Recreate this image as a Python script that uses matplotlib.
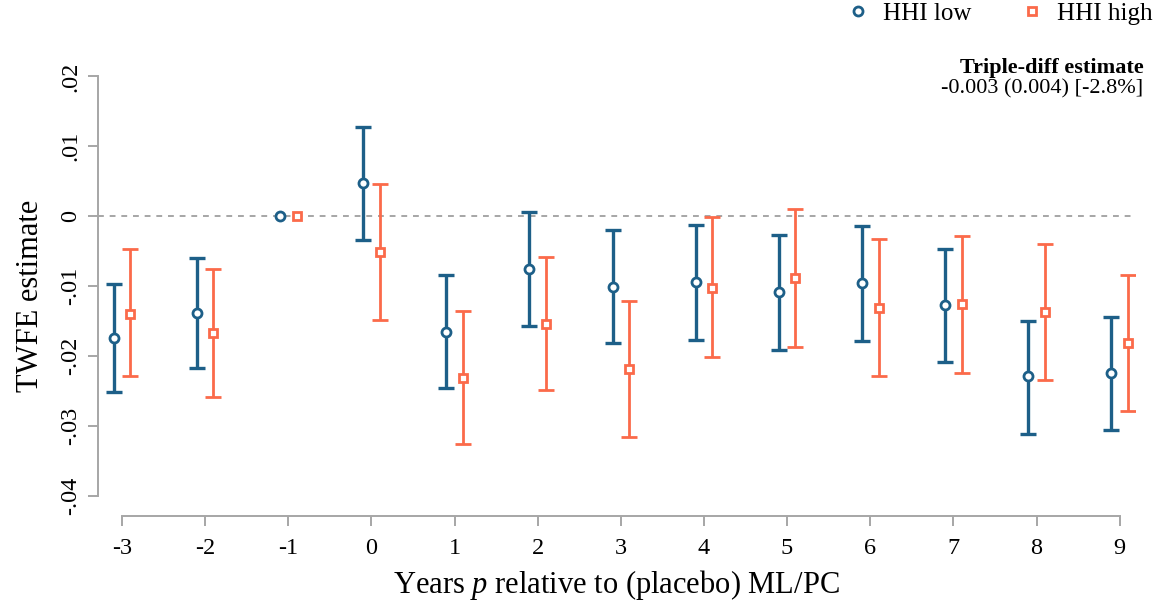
import matplotlib.pyplot as plt
import numpy as np

plt.rcParams['font.family'] = ['Liberation Serif', 'DejaVu Serif']
plt.rcParams['mathtext.fontset'] = 'custom'
plt.rcParams['mathtext.rm'] = 'Liberation Serif'
plt.rcParams['mathtext.it'] = 'Liberation Serif:italic'

years = [-3, -2, -1, 0, 1, 2, 3, 4, 5, 6, 7, 8, 9]

low_est = [-0.0174, -0.0138, 0.0, 0.0047, -0.0165, -0.0075, -0.0101, -0.0094, -0.0108, -0.0095, -0.0127, -0.0229, -0.0224]
low_hi = [-0.0097, -0.0060, 0.0, 0.0128, -0.0084, 0.0006, -0.0020, -0.0013, -0.0027, -0.0014, -0.0047, -0.0150, -0.0144]
low_lo = [-0.0252, -0.0217, 0.0, -0.0034, -0.0246, -0.0157, -0.0182, -0.0177, -0.0191, -0.0178, -0.0208, -0.0311, -0.0306]

high_est = [-0.0140, -0.0167, 0.0, -0.0051, -0.0231, -0.0154, -0.0219, -0.0103, -0.0088, -0.0131, -0.0125, -0.0137, -0.0181]
high_hi = [-0.0047, -0.0075, 0.0, 0.0046, -0.0135, -0.0058, -0.0121, -0.0001, 0.0010, -0.0033, -0.0028, -0.0040, -0.0084]
high_lo = [-0.0229, -0.0259, 0.0, -0.0148, -0.0326, -0.0249, -0.0316, -0.0201, -0.0187, -0.0228, -0.0224, -0.0235, -0.0279]

blue = '#1d5f88'
orange = '#fb6a4a'
grey = '#a6a6a6'

fig = plt.figure(figsize=(11.55, 6.06), dpi=100)
ax = fig.add_axes([0.0848, 0.1485, 0.8983, 0.7277])

x = np.array(years, dtype=float)
le = np.array(low_est); he = np.array(high_est)
ci = x != -1

ax.axhline(0, color=grey, ls=(0, (3, 3)), lw=1.4, zorder=1)

ax.errorbar(x[ci] - 0.1, le[ci], yerr=[le[ci] - np.array(low_lo)[ci], np.array(low_hi)[ci] - le[ci]],
            fmt='none', ecolor=blue, elinewidth=2.4, capsize=6, capthick=2.4, zorder=2)
ax.errorbar(x[ci] + 0.1, he[ci], yerr=[he[ci] - np.array(high_lo)[ci], np.array(high_hi)[ci] - he[ci]],
            fmt='none', ecolor=orange, elinewidth=2.0, capsize=6, capthick=2.0, zorder=2)
ax.plot(x - 0.1, le, 'o', ms=6.5, mfc='white', mec=blue, mew=2, ls='none', zorder=3, label='HHI low')
ax.plot(x + 0.1, he, 's', ms=6, mfc='white', mec=orange, mew=2, ls='none', zorder=3, label='HHI high')

ax.set_xlim(-3.289, 9.19)
ax.set_ylim(-0.0429, 0.0202)

for s in ['top', 'right']:
    ax.spines[s].set_visible(False)
ax.spines['left'].set_bounds(-0.04, 0.02)
ax.spines['bottom'].set_bounds(-3, 9)
for s in ['left', 'bottom']:
    ax.spines[s].set_color(grey)
    ax.spines[s].set_linewidth(1.4)

ax.set_xticks(years)
ax.set_xticklabels([str(v) for v in years])
yt = [-0.04, -0.03, -0.02, -0.01, 0, 0.01, 0.02]
ax.set_yticks(yt)
ax.set_yticklabels(['-.04', '-.03', '-.02', '-.01', '0', '.01', '.02'], rotation=90, va='center')
ax.tick_params(axis='both', colors=grey, width=1.4, length=7, labelsize=17.5, labelcolor='black', pad=5)
ax.tick_params(axis='x', pad=9)

ax.set_ylabel('TWFE estimate', fontsize=22, labelpad=11)
ax.set_xlabel('Years $p$ relative to (placebo) ML/PC', fontsize=22, labelpad=6)

ax.legend(loc='upper right', bbox_to_anchor=(1.038, 1.215), ncol=2, frameon=False, fontsize=18,
          handlelength=0.8, handletextpad=0.6, columnspacing=2.0, markerscale=1.0)

fig.text(0.99, 0.888, 'Triple-diff estimate', ha='right', va='center', fontsize=16, fontweight='bold')
fig.text(0.99, 0.853, '-0.003 (0.004) [-2.8%]', ha='right', va='center', fontsize=16)

fig.savefig('out.png', dpi=100)
